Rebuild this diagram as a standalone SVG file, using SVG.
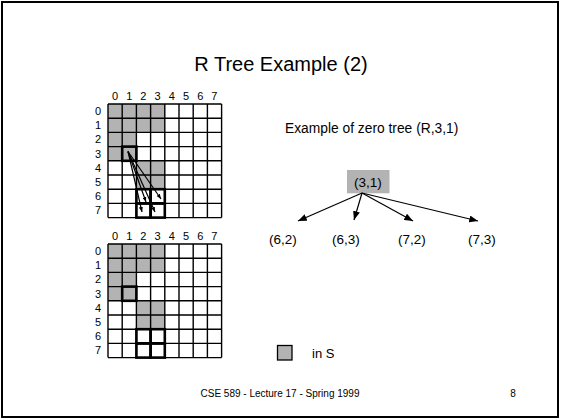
<svg xmlns="http://www.w3.org/2000/svg" width="561" height="420" viewBox="0 0 561 420">
<style>
text{font-family:"Liberation Sans",Arial,sans-serif;fill:#000}
.lbl{font-size:11px;text-anchor:middle}
.s{fill:#b3b3b3}
.grid{fill:none;stroke:#000;stroke-width:1.4}
.thick{fill:none;stroke:#000;stroke-width:2.6}
.conn{stroke:#000;stroke-width:1.2;fill:none}
.node{font-size:13.5px;text-anchor:middle}
</style>
<defs>
<marker id="ah" viewBox="0 0 10 8" refX="10" refY="4" markerUnits="userSpaceOnUse" markerWidth="9" markerHeight="7" orient="auto">
<path d="M0,0 L10,4 L0,8 z" fill="#000"/>
</marker>
<marker id="ahs" viewBox="0 0 10 8" refX="10" refY="4" markerUnits="userSpaceOnUse" markerWidth="5" markerHeight="4" orient="auto">
<path d="M0,0 L10,4 L0,8 z" fill="#000"/>
</marker>
<g id="cells">
<rect class="s" x="0" y="0" width="56.8" height="28.4"/>
<rect class="s" x="0" y="28.4" width="28.4" height="28.4"/>
<rect class="s" x="28.4" y="56.8" width="28.4" height="28.4"/>
<path class="grid" d="M0,0V113.6M14.2,0V113.6M28.4,0V113.6M42.6,0V113.6M56.8,0V113.6M71,0V113.6M85.2,0V113.6M99.4,0V113.6M113.6,0V113.6M0,0H113.6M0,14.2H113.6M0,28.4H113.6M0,42.6H113.6M0,56.8H113.6M0,71H113.6M0,85.2H113.6M0,99.4H113.6M0,113.6H113.6"/>
<rect class="thick" x="14.2" y="42.6" width="14.2" height="14.2"/>
<rect class="thick" x="28.4" y="85.2" width="14.2" height="14.2"/>
<rect class="thick" x="42.6" y="85.2" width="14.2" height="14.2"/>
<rect class="thick" x="28.4" y="99.4" width="14.2" height="14.2"/>
<rect class="thick" x="42.6" y="99.4" width="14.2" height="14.2"/>
<g class="lbl">
<text x="7" y="-4">0</text><text x="21.2" y="-4">1</text><text x="35.4" y="-4">2</text><text x="49.6" y="-4">3</text><text x="63.8" y="-4">4</text><text x="78" y="-4">5</text><text x="92.2" y="-4">6</text><text x="106.4" y="-4">7</text>
<text x="-10" y="11">0</text><text x="-10" y="25.2">1</text><text x="-10" y="39.4">2</text><text x="-10" y="53.6">3</text><text x="-10" y="67.8">4</text><text x="-10" y="82">5</text><text x="-10" y="96.2">6</text><text x="-10" y="110.4">7</text>
</g>
</g>
</defs>
<rect x="2" y="2" width="556" height="415" fill="#fff" stroke="#000" stroke-width="2"/>
<text x="281" y="71" font-size="20" text-anchor="middle">R Tree Example (2)</text>
<g id="grid1"><use href="#cells" x="108" y="104"/></g>
<g id="grid2"><use href="#cells" x="108" y="244"/></g>
<text x="285" y="133" font-size="13.8">Example of zero tree (R,3,1)</text>
<g id="n31">
<rect x="347" y="170" width="42.5" height="23.3" fill="#b3b3b3"/>
<text class="node" x="368" y="187">(3,1)</text>
</g>
<g id="n62"><text class="node" x="283" y="244">(6,2)</text></g>
<g id="n63"><text class="node" x="346" y="244">(6,3)</text></g>
<g id="n72"><text class="node" x="412" y="244">(7,2)</text></g>
<g id="n73"><text class="node" x="482" y="244">(7,3)</text></g>
<g id="connectors">
<line class="conn" x1="362" y1="193" x2="298" y2="221" marker-end="url(#ah)"/>
<line class="conn" x1="362" y1="193" x2="354" y2="220" marker-end="url(#ah)"/>
<line class="conn" x1="362" y1="193" x2="413" y2="221" marker-end="url(#ah)"/>
<line class="conn" x1="362" y1="193" x2="478" y2="221" marker-end="url(#ah)"/>
<line class="conn" x1="128" y1="151.5" x2="142" y2="212" marker-end="url(#ahs)"/>
<line class="conn" x1="128" y1="151.5" x2="146" y2="202" marker-end="url(#ahs)"/>
<line class="conn" x1="128" y1="151.5" x2="155" y2="212" marker-end="url(#ahs)"/>
<line class="conn" x1="128" y1="151.5" x2="161" y2="199" marker-end="url(#ahs)"/>
</g>
<g id="legend">
<rect x="277.5" y="345.5" width="14.5" height="14.5" fill="#b3b3b3" stroke="#000" stroke-width="1.3"/>
<text x="312" y="358" font-size="13">in S</text>
</g>
<text x="280" y="397" font-size="10" text-anchor="middle">CSE 589 - Lecture 17 - Spring 1999</text>
<text x="513" y="397" font-size="10" text-anchor="middle">8</text>
</svg>
